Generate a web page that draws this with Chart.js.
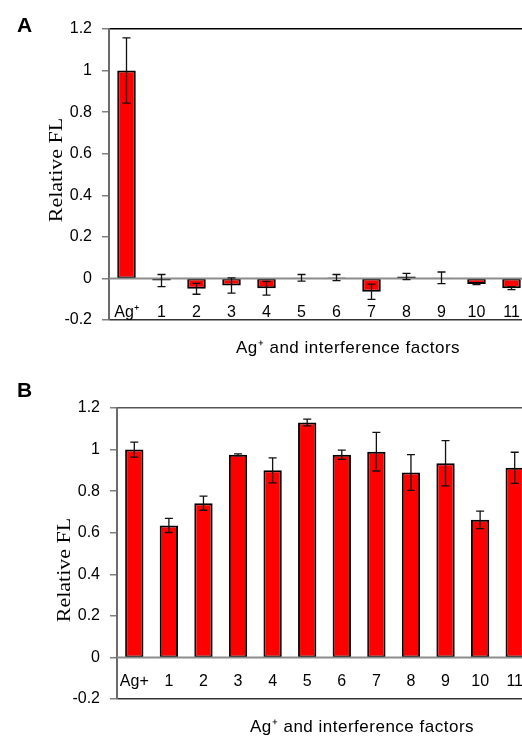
<!DOCTYPE html>
<html>
<head>
<meta charset="utf-8">
<script src="https://cdn.jsdelivr.net/npm/chart.js@4.4.1/dist/chart.umd.min.js"></script>
<style>
  html, body { margin: 0; padding: 0; background: #fff; overflow: hidden; }
  body { width: 522px; height: 738px; position: relative; }
  canvas { position: absolute; left: 0; }
  #chartA { top: 0; }
  #chartB { top: 360px; }
</style>
</head>
<body>
<canvas id="chartA" width="560" height="360"></canvas>
<canvas id="chartB" width="560" height="378"></canvas>
<script>
// categories
const labelsA = ["Ag⁺", "1", "2", "3", "4", "5", "6", "7", "8", "9", "10", "11"];
const labelsB = ["Ag+", "1", "2", "3", "4", "5", "6", "7", "8", "9", "10", "11"];

// panel A: relative FL and error (+/-)
const valuesA = [1.0, -0.01, -0.05, -0.034, -0.047, 0.003, 0.004, -0.064, 0.009, 0.003, -0.027, -0.047];
const errorsA = [0.157, 0.029, 0.026, 0.037, 0.033, 0.016, 0.015, 0.037, 0.015, 0.028, 0.003, 0.007];

// panel B
const valuesB = [1.0, 0.635, 0.742, 0.975, 0.9, 1.13, 0.975, 0.99, 0.89, 0.934, 0.662, 0.912];
const errorsB = [0.036, 0.034, 0.034, 0.004, 0.06, 0.016, 0.022, 0.093, 0.086, 0.109, 0.042, 0.075];

// y axis range
const yMin = -0.2;
const yMax = 1.2;
const yStep = 0.2;

const SANS = "'Liberation Sans', Arial, sans-serif";
const SERIF = "'Liberation Serif', 'Times New Roman', serif";

// zero line over the bars + error bars
const errorBars = {
  id: "errorBars",
  afterDatasetsDraw(chart, args, opts) {
    const { ctx, chartArea } = chart;
    const x = chart.scales.x;
    const y = chart.scales.y;
    const values = chart.data.datasets[0].data;

    ctx.save();
    const y0 = y.getPixelForValue(0);
    ctx.strokeStyle = "#8c8c8c";
    ctx.lineWidth = 2;
    ctx.beginPath();
    ctx.moveTo(chartArea.left, y0);
    ctx.lineTo(chartArea.right, y0);
    ctx.stroke();

    ctx.strokeStyle = "#111";
    ctx.lineWidth = 1.3;
    opts.errors.forEach((err, i) => {
      const cx = x.getPixelForValue(i);
      const top = y.getPixelForValue(values[i] + err);
      const bot = y.getPixelForValue(values[i] - err);
      ctx.beginPath();
      ctx.moveTo(cx, top);
      ctx.lineTo(cx, bot);
      ctx.moveTo(cx - 4, top);
      ctx.lineTo(cx + 4, top);
      ctx.moveTo(cx - 4, bot);
      ctx.lineTo(cx + 4, bot);
      ctx.stroke();
    });
    ctx.restore();
  }
};

// panel letter, category names, axis titles
const panelText = {
  id: "panelText",
  afterDraw(chart, args, opts) {
    const { ctx } = chart;
    const x = chart.scales.x;
    ctx.save();
    ctx.fillStyle = "#000";
    ctx.textBaseline = "alphabetic";

    ctx.font = "bold 21px " + SANS;
    ctx.textAlign = "left";
    ctx.fillText(opts.letter, 17, opts.letterY);

    // category names sit inside the plot, under the zero line
    ctx.font = "16px " + SANS;
    ctx.textAlign = "center";
    chart.data.labels.forEach((lab, i) => {
      ctx.fillText(lab, x.getPixelForValue(i), opts.labelY);
    });

    ctx.font = "17px " + SANS;
    ctx.letterSpacing = "0.5px";
    ctx.fillText(opts.xTitle, opts.xTitleX, opts.xTitleY);
    ctx.letterSpacing = "0px";

    ctx.translate(opts.yTitleX, opts.yTitleY);
    ctx.rotate(-Math.PI / 2);
    ctx.scale(1.22, 1);
    ctx.font = "18px " + SERIF;
    ctx.fillText("Relative FL", 0, 0);
    ctx.restore();
  }
};

function makeChart(id, labels, values, errors, frame, text) {
  const near = (a, b) => Math.abs(a - b) < 1e-6;
  return new Chart(document.getElementById(id), {
    type: "bar",
    data: {
      labels: labels,
      datasets: [
        {
          data: values,
          backgroundColor: "#ff0000",
          borderColor: "#000",
          borderWidth: 2,
          borderSkipped: false,
          barPercentage: 0.53,
          categoryPercentage: 1,
        },
      ],
    },
    options: {
      responsive: false,
      animation: false,
      layout: { padding: frame.padding },
      plugins: {
        legend: { display: false },
        tooltip: { enabled: false },
        errorBars: { errors: errors },
        panelText: text,
      },
      scales: {
        x: { display: false },
        y: {
          min: yMin,
          max: yMax,
          afterFit: (scale) => {
            scale.width = frame.axisWidth;
          },
          ticks: {
            stepSize: yStep,
            padding: 10,
            color: "#000",
            font: { family: SANS, size: 16 },
            callback: (v) => Number(v.toFixed(1)).toString(),
          },
          grid: {
            color: (c) => {
              if (near(c.tick.value, yMax)) return frame.topColor;
              if (near(c.tick.value, yMin)) return "#333";
              return "rgba(0,0,0,0)";
            },
            lineWidth: 1.5,
            tickColor: "#808080",
            tickLength: 7,
            tickWidth: 1.5,
          },
          border: { color: "#6b6b6b", width: 2 },
        },
      },
    },
    plugins: [errorBars, panelText],
  });
}

makeChart("chartA", labelsA, valuesA, errorsA,
  { axisWidth: 109, topColor: "#000", padding: { left: 0, top: 29, right: 31, bottom: 40 } },
  { letter: "A", letterY: 32, labelY: 317, xTitle: "Ag⁺ and interference factors",
    xTitleX: 348, xTitleY: 353, yTitleX: 62, yTitleY: 170 });

makeChart("chartB", labelsB, valuesB, errorsB,
  { axisWidth: 117, topColor: "#555", padding: { left: 0, top: 48, right: 28, bottom: 39 } },
  { letter: "B", letterY: 37, labelY: 326, xTitle: "Ag⁺ and interference factors",
    xTitleX: 362, xTitleY: 372, yTitleX: 69.5, yTitleY: 210 });
</script>
</body>
</html>
